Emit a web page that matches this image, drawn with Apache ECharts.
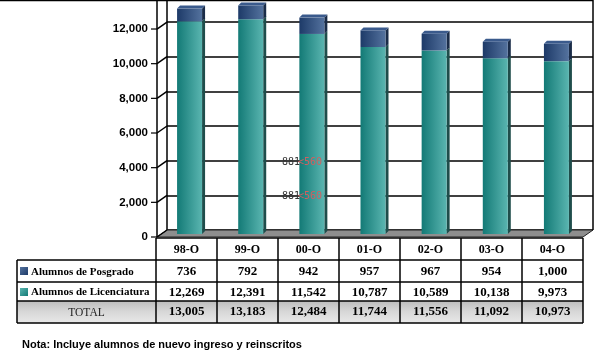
<!DOCTYPE html>
<html>
<head>
<meta charset="utf-8">
<script src="https://cdn.jsdelivr.net/npm/echarts@6/dist/echarts.min.js"></script>
<style>
html, body { margin: 0; padding: 0; background: #fff; }
#main { width: 602px; height: 354px; }
</style>
</head>
<body>
<div id="main"></div>
<script>
// Datos de la gráfica
var periodos = ['98-O', '99-O', '00-O', '01-O', '02-O', '03-O', '04-O'];
var posgrado = [736, 792, 942, 957, 967, 954, 1000];
var licenciatura = [12269, 12391, 11542, 10787, 10589, 10138, 9973];
var totales = [13005, 13183, 12484, 11744, 11556, 11092, 10973];
var marcasY = [0, 2000, 4000, 6000, 8000, 10000, 12000];

var chartDom = document.getElementById('main');
var myChart = echarts.init(chartDom);
var option;

var yMax = 13270;
var DX = 10, DY = 7;   // desplazamiento de la pared del fondo (efecto 3D)
var PROF = 3;          // profundidad de las barras
var serif = '"Liberation Serif", "Times New Roman", serif';
var sans = '"Liberation Sans", Arial, sans-serif';

var colores = {
    'Alumnos de Licenciatura': { izq: '#137a76', der: '#5ab5b0', lado: '#1f4d4b', tapa: '#3d9a96' },
    'Alumnos de Posgrado': { izq: '#1d3a68', der: '#54729e', lado: '#1a2c48', tapa: '#3a5a8c' }
};

function fmt(n) {
    return n.toString().replace(/\B(?=(\d{3})+(?!\d))/g, ',');
}

// caja 3D para cada tramo de barra apilada
function caja(params, api) {
    var i = api.value(0);
    var base = api.coord([i, api.value(1)]);
    var tope = api.coord([i, api.value(2)]);
    var w = 25, d = PROF;
    var x0 = base[0] - w / 2, x1 = base[0] + w / 2;
    var yb = base[1], yt = tope[1];
    var c = colores[params.seriesName];
    var hijos = [
        {
            type: 'polygon',
            shape: { points: [[x1, yt], [x1 + d, yt - d], [x1 + d, yb - d], [x1, yb]] },
            style: { fill: c.lado }
        },
        {
            type: 'rect',
            shape: { x: x0, y: yt, width: w, height: yb - yt },
            style: {
                fill: new echarts.graphic.LinearGradient(0, 0, 1, 0, [
                    { offset: 0, color: c.izq },
                    { offset: 1, color: c.der }
                ])
            }
        }
    ];
    if (api.value(3) === 1) {
        hijos.push({
            type: 'polygon',
            shape: { points: [[x0, yt], [x0 + d, yt - d], [x1 + d, yt - d], [x1, yt]] },
            style: { fill: c.tapa }
        });
    }
    return { type: 'group', children: hijos };
}

// conectores de la rejilla, piso y eje frontal
function paredes(params, api) {
    var cs = params.coordSys;
    var v = api.value(1);
    var y = api.coord([0, v])[1];
    var hijos = [
        { type: 'line', shape: { x1: cs.x - DX, y1: y + DY, x2: cs.x, y2: y }, style: { stroke: '#000', lineWidth: 1.5 } },
        { type: 'line', shape: { x1: cs.x - DX - 6, y1: y + DY, x2: cs.x - DX, y2: y + DY }, style: { stroke: '#000', lineWidth: 1.2 } }
    ];
    if (v === 0) {
        var yb = cs.y + cs.height;
        var xr = cs.x + cs.width;
        hijos.unshift({
            type: 'polygon',
            shape: { points: [[cs.x - DX, yb + DY], [xr - DX, yb + DY], [xr, yb], [cs.x, yb]] },
            style: { fill: '#8e8e8e', stroke: '#222', lineWidth: 1 }
        });
        hijos.push({ type: 'line', shape: { x1: cs.x - DX, y1: cs.y, x2: cs.x - DX, y2: yb + DY }, style: { stroke: '#000', lineWidth: 1.5 } });
        hijos.push({ type: 'line', shape: { x1: xr, y1: cs.y, x2: xr, y2: yb }, style: { stroke: '#000', lineWidth: 1.5 } });
    }
    return { type: 'group', children: hijos };
}

// tabla de datos debajo de la gráfica
var tx0 = 156, tcol = 61, tlab = 17;
var filas = [238, 260, 282, 301, 323];
var tabla = [];
tabla.push({
    type: 'rect', shape: { x: tlab, y: filas[3], width: tx0 + tcol * 7 - tlab, height: filas[4] - filas[3] },
    style: { fill: new echarts.graphic.LinearGradient(0, 0, 0, 1, [
        { offset: 0, color: '#bdbdbd' }, { offset: 0.5, color: '#d8d8d8' }, { offset: 1, color: '#e8e8e8' }
    ]) }
});
var linea = { stroke: '#000', lineWidth: 1.5 };
// líneas horizontales
tabla.push({ type: 'line', shape: { x1: tx0, y1: filas[0], x2: tx0 + tcol * 7, y2: filas[0] }, style: linea });
for (var r = 1; r < filas.length; r++) {
    tabla.push({ type: 'line', shape: { x1: tlab, y1: filas[r], x2: tx0 + tcol * 7, y2: filas[r] }, style: linea });
}
// líneas verticales
tabla.push({ type: 'line', shape: { x1: tlab, y1: filas[1], x2: tlab, y2: filas[4] }, style: linea });
for (var k = 0; k <= 7; k++) {
    tabla.push({ type: 'line', shape: { x1: tx0 + tcol * k, y1: filas[0], x2: tx0 + tcol * k, y2: filas[4] }, style: linea });
}
function celda(txt, cx, cy, extra) {
    var st = { text: txt, x: cx, y: cy, align: 'center', verticalAlign: 'middle', fill: '#000', font: 'bold 12px ' + serif };
    for (var key in extra) st[key] = extra[key];
    tabla.push({ type: 'text', style: st });
}
periodos.forEach(function (p, i) {
    var cx = tx0 + tcol * i + tcol / 2;
    celda(p, cx, (filas[0] + filas[1]) / 2 + 1, {});
    celda(fmt(posgrado[i]), cx, (filas[1] + filas[2]) / 2 + 1, { font: 'bold 13px ' + serif });
    celda(fmt(licenciatura[i]), cx, (filas[2] + filas[3]) / 2 + 1, { font: 'bold 13px ' + serif });
    celda(fmt(totales[i]), cx, (filas[3] + filas[4]) / 2, { font: 'bold 13px ' + serif });
});
// leyenda en la tabla
tabla.push({ type: 'rect', shape: { x: 20, y: 267, width: 8, height: 8 }, style: { fill: new echarts.graphic.LinearGradient(0, 0, 1, 1, [{ offset: 0, color: '#54729e' }, { offset: 1, color: '#1d3a68' }]) } });
tabla.push({ type: 'rect', shape: { x: 20, y: 288, width: 8, height: 8 }, style: { fill: new echarts.graphic.LinearGradient(0, 0, 1, 1, [{ offset: 0, color: '#5ab5b0' }, { offset: 1, color: '#137a76' }]) } });
tabla.push({ type: 'text', style: { text: 'Alumnos de Posgrado', x: 31, y: 272, verticalAlign: 'middle', fill: '#000', font: 'bold 11px ' + serif } });
tabla.push({ type: 'text', style: { text: 'Alumnos de Licenciatura', x: 31, y: 292.5, verticalAlign: 'middle', fill: '#000', font: 'bold 11px ' + serif } });
tabla.push({ type: 'text', style: { text: 'TOTAL', x: (tlab + tx0) / 2, y: 312.5, align: 'center', verticalAlign: 'middle', fill: '#222', font: '11.5px ' + serif } });
// nota al pie
tabla.push({ type: 'text', style: { text: 'Nota: Incluye alumnos de nuevo ingreso y reinscritos', x: 22, y: 345, verticalAlign: 'middle', fill: '#000', font: 'bold 11px ' + sans } });
// línea superior
tabla.push({ type: 'line', shape: { x1: 0, y1: 0.5, x2: 593, y2: 0.5 }, style: { stroke: '#000', lineWidth: 1.5 } });
// textos sueltos dentro del área
[162, 196].forEach(function (yy) {
    tabla.push({ type: 'text', z: 100, style: { text: '881', x: 282, y: yy, verticalAlign: 'middle', fill: '#333', font: '10px "DejaVu Sans Mono", monospace' } });
    tabla.push({ type: 'text', z: 100, style: { text: '<560', x: 298, y: yy, verticalAlign: 'middle', fill: '#d06060', font: '10px "DejaVu Sans Mono", monospace' } });
});

option = {
    animation: false,
    backgroundColor: '#fff',
    grid: [
        { left: 167, right: 9, top: 0, bottom: 124 },   // pared del fondo
        { left: 159, right: 15, top: 4, bottom: 120 },  // barras
        { left: 157, right: 19, top: 7, bottom: 117 }   // etiquetas del eje
    ],
    xAxis: [
        { type: 'category', gridIndex: 0, data: periodos, show: false },
        { type: 'category', gridIndex: 1, data: periodos, show: false },
        { type: 'category', gridIndex: 2, data: periodos, show: false }
    ],
    yAxis: [
        {
            type: 'value', gridIndex: 0, min: 0, max: yMax, interval: 2000,
            axisLine: { show: true, lineStyle: { color: '#000', width: 1.5 } },
            axisTick: { show: false },
            axisLabel: { show: false },
            splitLine: { lineStyle: { color: '#000', width: 1.5 } }
        },
        { type: 'value', gridIndex: 1, min: 0, max: yMax, show: false },
        {
            type: 'value', gridIndex: 2, min: 0, max: yMax, interval: 2000,
            axisLine: { show: false },
            axisTick: { show: false },
            splitLine: { show: false },
            axisLabel: {
                margin: 9,
                color: '#000',
                fontWeight: 'bold',
                fontSize: 11.5,
                fontFamily: sans,
                formatter: function (v) { return v % 2000 === 0 ? fmt(v) : ''; }
            }
        }
    ],
    series: [
        {
            type: 'custom', name: 'paredes', xAxisIndex: 0, yAxisIndex: 0,
            renderItem: paredes, silent: true,
            data: marcasY.map(function (v) { return [0, v]; })
        },
        {
            type: 'custom', name: 'Alumnos de Licenciatura', xAxisIndex: 1, yAxisIndex: 1,
            renderItem: caja,
            data: licenciatura.map(function (v, i) { return [i, 0, v, 0]; })
        },
        {
            type: 'custom', name: 'Alumnos de Posgrado', xAxisIndex: 1, yAxisIndex: 1,
            renderItem: caja,
            data: posgrado.map(function (v, i) { return [i, licenciatura[i], licenciatura[i] + v, 1]; })
        }
    ],
    graphic: tabla
};

option && myChart.setOption(option);
</script>
</body>
</html>
